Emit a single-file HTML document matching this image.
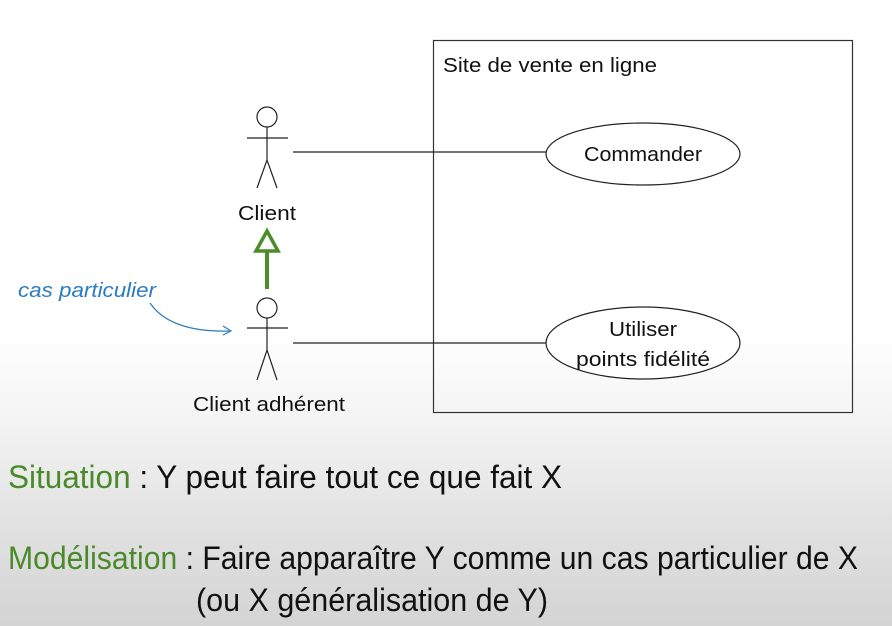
<!DOCTYPE html>
<html><head><meta charset="utf-8"><style>
html,body{margin:0;padding:0;width:892px;height:626px;overflow:hidden}
body{background:linear-gradient(to bottom,#fff 0px,#fff 330px,#f4f4f4 420px,#e2e2e2 520px,#d4d4d4 626px)}
svg{position:absolute;left:0;top:0}
text{font-family:"Liberation Sans",sans-serif}
</style></head><body>
<svg width="892" height="626" viewBox="0 0 892 626">
<rect x="433.5" y="40.5" width="419" height="372" fill="none" stroke="#333" stroke-width="1.2"/>
<text x="443" y="72" font-size="20" fill="#111" textLength="214" lengthAdjust="spacingAndGlyphs">Site de vente en ligne</text>
<ellipse cx="643" cy="154" rx="97" ry="31" fill="#fff" stroke="#222" stroke-width="1.2"/>
<text x="643" y="161" font-size="20" text-anchor="middle" fill="#111" textLength="118" lengthAdjust="spacingAndGlyphs">Commander</text>
<ellipse cx="643" cy="343" rx="97" ry="36" fill="#fff" stroke="#222" stroke-width="1.2"/>
<text x="643" y="336" font-size="20" text-anchor="middle" fill="#111" textLength="68" lengthAdjust="spacingAndGlyphs">Utiliser</text>
<text x="643" y="366" font-size="20" text-anchor="middle" fill="#111" textLength="134" lengthAdjust="spacingAndGlyphs">points fidélité</text>
<line x1="293" y1="152" x2="546" y2="152" stroke="#222" stroke-width="1.2"/>
<line x1="293" y1="343" x2="546" y2="343" stroke="#222" stroke-width="1.2"/>
<g fill="none" stroke="#222" stroke-width="1.2">
<circle cx="267" cy="117" r="10"/>
<line x1="267" y1="127" x2="267" y2="160"/>
<line x1="247" y1="138" x2="288" y2="138"/>
<polyline points="257,188 267,160 277,188"/>
<circle cx="267" cy="308" r="10"/>
<line x1="267" y1="318" x2="267" y2="350"/>
<line x1="247" y1="328" x2="288" y2="328"/>
<polyline points="257,380 267,350 277,380"/>
</g>
<text x="267" y="220" font-size="20" text-anchor="middle" fill="#111" textLength="58" lengthAdjust="spacingAndGlyphs">Client</text>
<text x="269" y="411" font-size="20" text-anchor="middle" fill="#111" textLength="152" lengthAdjust="spacingAndGlyphs">Client adhérent</text>
<line x1="267" y1="289" x2="267" y2="251" stroke="#4c8c2a" stroke-width="4"/>
<polygon points="256,251 278,251 267,231" fill="#fff" stroke="#4c8c2a" stroke-width="3.5" stroke-linejoin="miter"/>
<text x="18" y="297" font-size="20" font-style="italic" fill="#2b7cc0" textLength="138" lengthAdjust="spacingAndGlyphs">cas particulier</text>
<path d="M150,303 C165,325 195,332 230,331" fill="none" stroke="#2b7cc0" stroke-width="1.2"/>
<path d="M223,326 L231,331 L223,335" fill="none" stroke="#2b7cc0" stroke-width="1.2"/>
<text x="8" y="488" font-size="32" fill="#111" textLength="554" lengthAdjust="spacingAndGlyphs"><tspan fill="#4a8a2a">Situation</tspan> : Y peut faire tout ce que fait X</text>
<text x="8" y="569" font-size="32" fill="#111" textLength="850" lengthAdjust="spacingAndGlyphs"><tspan fill="#4a8a2a">Modélisation</tspan> : Faire apparaître Y comme un cas particulier de X</text>
<text x="196" y="611" font-size="32" fill="#111" textLength="352" lengthAdjust="spacingAndGlyphs">(ou X généralisation de Y)</text>
</svg>
</body></html>
